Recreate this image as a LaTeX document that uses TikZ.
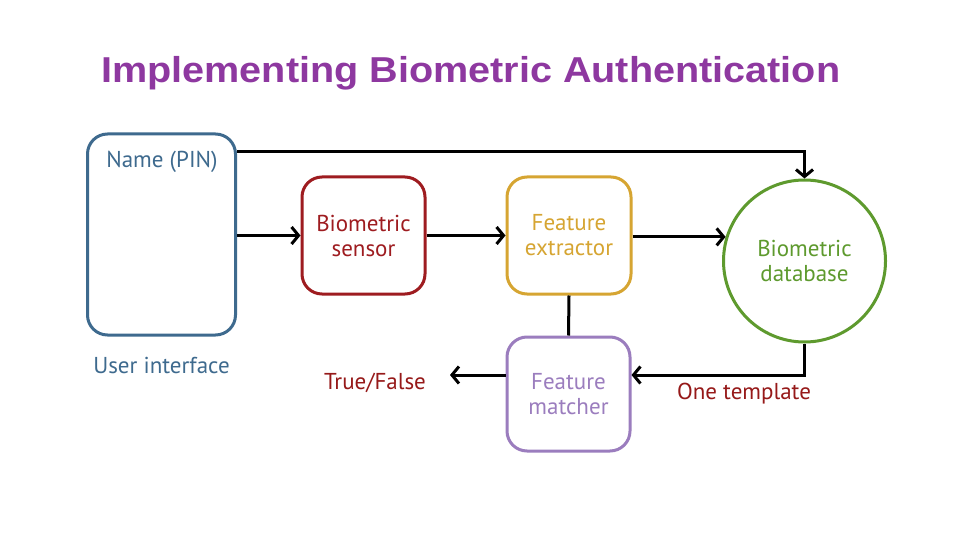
\documentclass[tikz,border=0pt]{standalone}
\usepackage{fontspec}
\usepackage{graphicx}
\setmainfont{PT Sans}
\newfontfamily\titlefont{Liberation Sans}
\usetikzlibrary{arrows.meta,calc,shapes.geometric}
\definecolor{uiblue}{RGB}{62,106,142}
\definecolor{sensred}{RGB}{158,28,32}
\definecolor{extgold}{RGB}{214,165,50}
\definecolor{dbgreen}{RGB}{94,154,46}
\definecolor{matpurple}{RGB}{155,125,190}
\definecolor{txtred}{RGB}{150,25,25}
\definecolor{titlepurple}{RGB}{142,56,160}
\tikzset{
  blk/.style={draw, line width=3pt, rounded corners=20pt, align=center,
    font=\fontsize{23}{25}\selectfont, inner sep=0pt},
  lbl/.style={font=\fontsize{23}{25}\selectfont, inner sep=0pt},
  conn/.style={line width=3pt, draw=black},
  arr/.style={conn, -{Straight Barb[length=7pt,width=17pt,line width=3pt]}}
}
\begin{document}
\begin{tikzpicture}[x=1pt,y=-1pt]
\path[fill=white] (0,0) rectangle (960,540);
\useasboundingbox (0,0) rectangle (960,540);
\node[anchor=base west, text=titlepurple, inner sep=0pt,
  font=\titlefont\bfseries\fontsize{36}{40}\selectfont] (title) at (101,83)
  {\resizebox{739pt}{\height}{Implementing Biometric Authentication}};
\node[blk, draw=uiblue, minimum width=148pt, minimum height=201pt] (ui) at (161.5,234.5) {};
\node[lbl, text=uiblue] (name) at (162,162) {Name (PIN)};
\node[lbl, text=uiblue] (uilabel) at (161.5,365) {User interface};
\node[blk, draw=sensred, text=sensred, minimum width=123pt, minimum height=117pt] (sensor) at (363.5,235.5) {Biometric\\sensor};
\node[blk, draw=extgold, text=extgold, minimum width=124pt, minimum height=117pt] (extr) at (569,235.5) {Feature\\extractor};
\node[circle, draw=dbgreen, text=dbgreen, line width=3pt, minimum size=162pt, align=center,
  font=\fontsize{23}{25}\selectfont, inner sep=0pt] (db) at (804.5,261) {Biometric\\database};
\node[blk, draw=matpurple, text=matpurple, minimum width=123pt, minimum height=114pt] (match) at (568.5,394) {Feature\\matcher};
\node[lbl, text=txtred] (tf) at (375,383) {True/False};
\node[lbl, text=txtred] (onet) at (744,394) {One template};
\coordinate (tfend) at (450,375);
\draw[arr] ($(ui.north east)+(0,19)$) -| (db.north);
\draw[arr] (ui.east |- sensor.west) -- (sensor.west);
\draw[arr] (sensor.east) -- (extr.west);
\draw[arr] (extr.east |- db.163) -- (db.163);
\draw[conn] (extr.south) -- (match.north);
\draw[arr] (db.south) |- ($(match.east)+(0,-19)$);
\draw[arr] ($(match.west)+(0,-19)$) -- (tfend);
\end{tikzpicture}
\end{document}
